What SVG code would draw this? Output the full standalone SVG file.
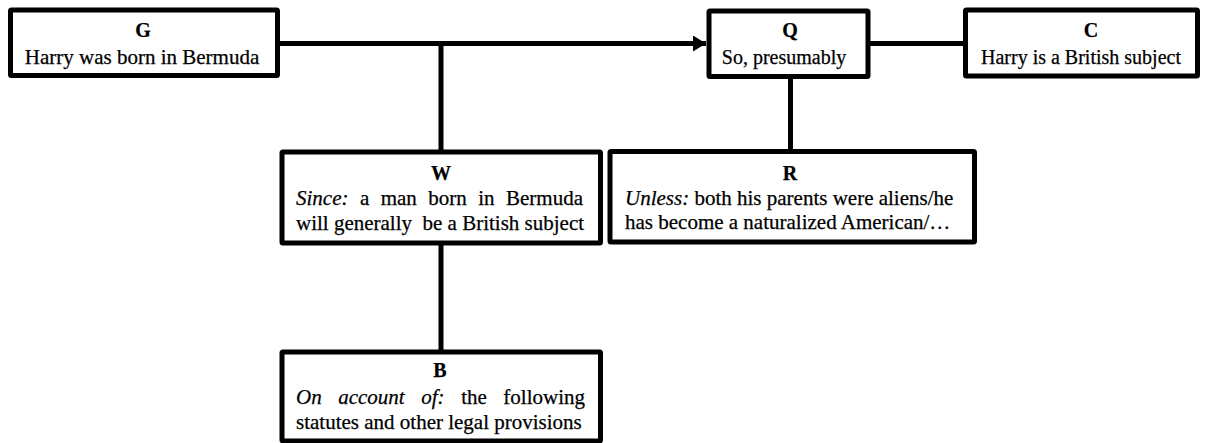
<svg xmlns="http://www.w3.org/2000/svg" width="1217" height="443" viewBox="0 0 1217 443">
<style>
.box{fill:#fff;stroke:#000;stroke-width:5;}
.ln{fill:none;stroke:#000;stroke-width:5;}
text{font-family:"Liberation Serif","Times New Roman",serif;font-size:21px;fill:#000;stroke:#000;stroke-width:0.25;}
.t{font-weight:bold;text-anchor:middle;font-size:20px;}
.c{text-anchor:middle;}
.s20{font-size:20px;}
.i{font-style:italic;}
</style>
<defs>
<marker id="arr" markerUnits="userSpaceOnUse" markerWidth="14" markerHeight="18" refX="13" refY="8" orient="auto">
<path d="M0,0 L13,8 L0,16 Z" fill="#000"/>
</marker>
</defs>
<rect width="1217" height="443" fill="#fff"/>
<g id="connectors">
<line class="ln" x1="277.5" y1="43.5" x2="706" y2="43.5" marker-end="url(#arr)"/>
<line class="ln" x1="867.5" y1="43.5" x2="965.5" y2="43.5"/>
<line class="ln" x1="441" y1="43.5" x2="441" y2="152"/>
<line class="ln" x1="441" y1="243" x2="441" y2="352"/>
<line class="ln" x1="790.5" y1="76.5" x2="790.5" y2="151.5"/>
</g>
<g id="G">
<rect class="box" x="10.5" y="10" width="267" height="65.5" rx="1"/>
<text class="t" x="143" y="36.5">G</text>
<text class="c" x="142" y="64">Harry was born in Bermuda</text>
</g>
<g id="Q">
<rect class="box" x="709" y="11" width="159" height="65.5" rx="1"/>
<text class="t" x="790" y="37">Q</text>
<text class="c s20" x="784" y="63.5">So, presumably</text>
</g>
<g id="C">
<rect class="box" x="965.5" y="10" width="232" height="66" rx="1"/>
<text class="t" x="1091" y="36.5">C</text>
<text class="c s20" x="1081" y="63.5">Harry is a British subject</text>
</g>
<g id="W">
<rect class="box" x="282" y="152" width="318.5" height="91" rx="1"/>
<text class="t" x="441" y="180">W</text>
<text x="296" y="205" style="word-spacing:6.2px"><tspan class="i">Since:</tspan> a man born in Bermuda</text>
<text x="296" y="230" xml:space="preserve">will generally  be a British subject</text>
</g>
<g id="R">
<rect class="box" x="610" y="151.5" width="364.5" height="90.5" rx="1"/>
<text class="t" x="790" y="180">R</text>
<text x="625" y="205"><tspan class="i">Unless:</tspan> both his parents were aliens/he</text>
<text x="625" y="229">has become a naturalized American/…</text>
</g>
<g id="B">
<rect class="box" x="282" y="352" width="318.5" height="89" rx="1"/>
<text class="t" x="440" y="377">B</text>
<text x="296" y="404" style="word-spacing:11.3px"><tspan class="i">On account of:</tspan> the following</text>
<text x="296" y="429">statutes and other legal provisions</text>
</g>
</svg>
